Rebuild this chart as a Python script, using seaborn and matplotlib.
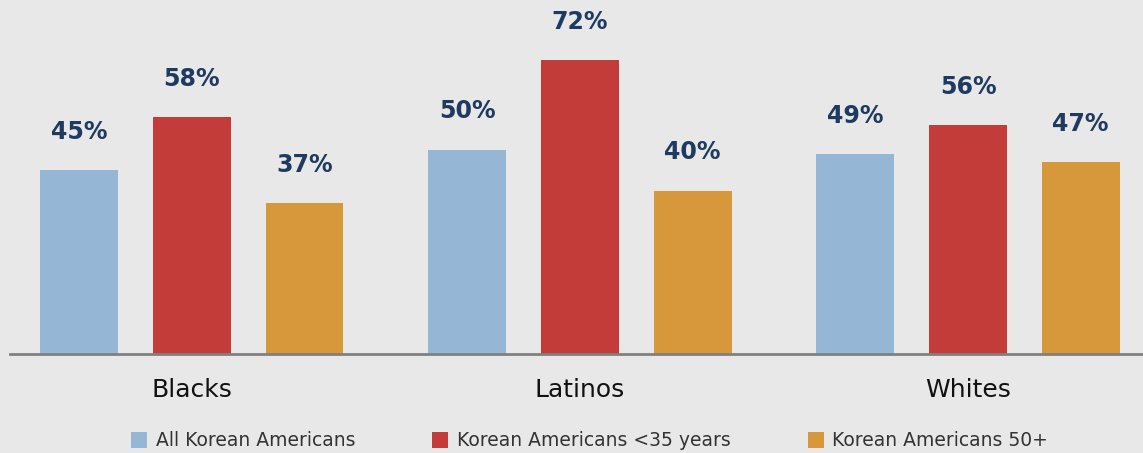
import matplotlib
matplotlib.use("Agg")
import matplotlib.pyplot as plt
import seaborn as sns
import pandas as pd
from matplotlib.patches import Patch

# Share of respondents by group and age segment
categories = ["Blacks", "Latinos", "Whites"]
series_names = ["All Korean Americans", "Korean Americans <35 years", "Korean Americans 50+"]
all_korean = [45, 50, 49]
under_35 = [58, 72, 56]
over_50 = [37, 40, 47]
colors = ["#95b6d4", "#c33c39", "#d6983a"]

rows = []
for name, vals in zip(series_names, [all_korean, under_35, over_50]):
    for cat, v in zip(categories, vals):
        rows.append({"group": cat, "series": name, "value": v})
df = pd.DataFrame(rows)

sns.set_style("white")
plt.rcParams["font.family"] = ["DejaVu Sans"]
bg = "#e8e8e8"

fig = plt.figure(figsize=(11.43, 4.53), dpi=100, facecolor=bg)
ax = fig.add_axes([10 / 1143, 99 / 453, 1 - 10 / 1143, 1 - 99 / 453])
ax.set_facecolor(bg)

sns.barplot(data=df, x="group", y="value", hue="series", order=categories,
            hue_order=series_names, palette=colors, saturation=1,
            width=0.87, gap=0.307, ax=ax, legend=False, errorbar=None,
            linewidth=0, edgecolor="none")

for cont in ax.containers:
    ax.bar_label(cont, fmt="{:.0f}%", padding=19, fontsize=17,
                 fontweight="bold", color="#1f3a60")

ax.set_xlim(-0.469, 2.451)
ax.set_ylim(0, 86.7)
ax.set_xlabel("")
ax.set_ylabel("")
ax.set_yticks([])
ax.tick_params(axis="x", length=0, pad=17.5, labelsize=18, labelcolor="#111111")
for s in ["top", "left", "right"]:
    ax.spines[s].set_visible(False)
ax.spines["bottom"].set_color("#808080")
ax.spines["bottom"].set_linewidth(2)

handles = [Patch(facecolor=c, edgecolor="none") for c in colors]
fig.legend(handles, series_names, loc="center left", bbox_to_anchor=(131 / 1143, 12 / 453),
           ncol=3, frameon=False, fontsize=13.5, labelcolor="#333333",
           handlelength=0.87, handleheight=0.87, handletextpad=0.45, columnspacing=4.1,
           borderaxespad=0, borderpad=0)

fig.savefig("out.png", dpi=100, facecolor=bg)
